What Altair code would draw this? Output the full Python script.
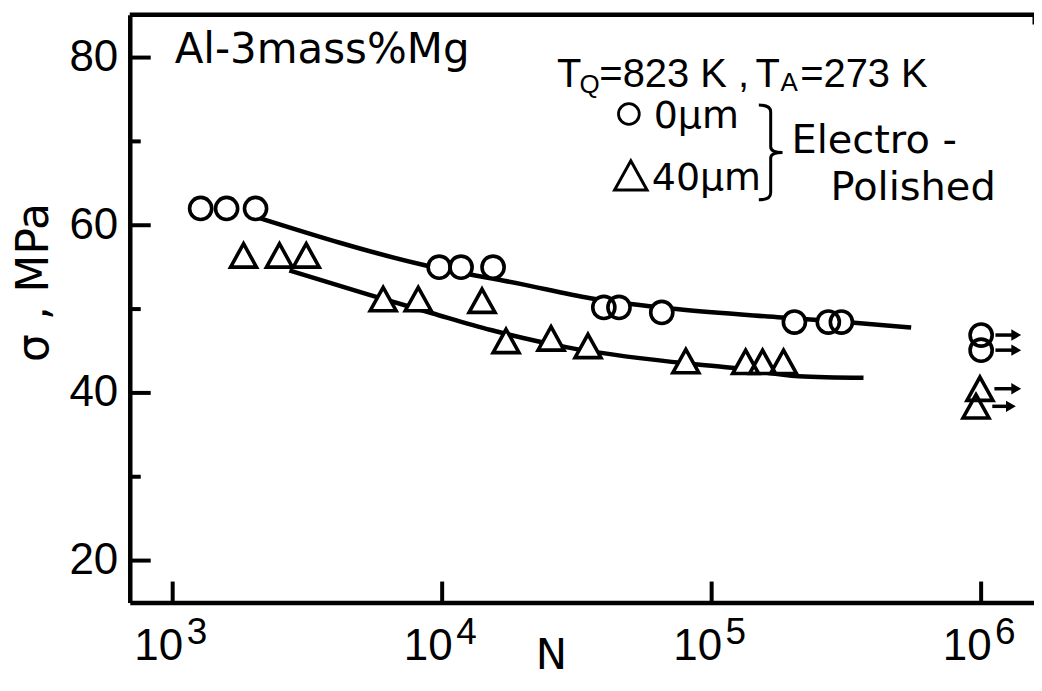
import altair as alt
import pandas as pd

# ---------------- values ----------------
# 0 um electro-polished (circles)
n_0um = [1270, 1585, 2030, 9750, 11750, 15450, 39800, 45300, 65300, 202800, 271000, 303000]
s_0um = [62.0, 62.0, 62.0, 55.0, 55.0, 55.0, 50.2, 50.2, 49.6, 48.45, 48.45, 48.45]
# 40 um electro-polished (triangles)
n_40um = [1832, 2490, 3130, 6040, 8150, 14060, 17260, 25350, 34760, 80200, 133700, 154500, 184800]
s_40um = [56.4, 56.4, 56.4, 51.2, 51.2, 51.0, 46.2, 46.5, 45.6, 43.8, 43.7, 43.7, 43.7]

# run-outs at 10^6 cycles
run_n_0um = [1.0e6, 1.0e6]
run_s_0um = [46.9, 45.1]
run_n_40um = [0.99e6, 0.957e6]
run_s_40um = [40.5, 38.4]
arrow_from = [1.13e6, 1.13e6, 1.12e6, 1.10e6]
arrow_to = [1.35e6, 1.35e6, 1.35e6, 1.29e6]
arrow_s = [46.9, 45.1, 40.5, 38.4]

# fitted S-N curves
fit_n_0um = [2030, 8700, 19500, 35500, 74000, 182000, 347000, 550000]
fit_s_0um = [61.0, 55.2, 53.0, 51.3, 50.0, 49.0, 48.35, 47.8]
fit_n_40um = [2710, 5370, 9180, 15170, 29500, 71100, 118600, 210000, 366000]
fit_s_40um = [54.6, 51.7, 49.5, 47.5, 45.4, 43.7, 43.0, 42.0, 41.8]

# axes
x_ticks = [1e3, 1e4, 1e5, 1e6]
x_exponents = ["3", "4", "5", "6"]
y_major = [20, 40, 60, 80]
y_minor = [30, 50, 70]

# annotations (anchors in data coordinates)
alloy_text = ["Al-3mass%Mg"]
alloy_n = [1017]
alloy_s = [79.4]
cond_text = ["T", "=823 K ,", "T", "=273 K"]
cond_n = [26680, 38300, 145500, 213000]
cond_s = [76.43, 76.43, 76.43, 76.43]
sub_text = ["Q", "A"]
sub_n = [32300, 180000]
sub_s = [75.83, 76.07]
unit_text = ["0μm", "40μm"]
unit_n = [60950, 59950]
unit_s = [71.55, 64.17]
polish_text = ["Electro -", "Polished"]
polish_n = [197700, 276200]
polish_s = [68.57, 62.98]
legend_circle_n = [49300]
legend_circle_s = [73.27]
legend_tri_n = [50120]
legend_tri_s = [65.95]
brace_n = [165600]
brace_s = [68.69]

# ---------------- chart ----------------
W, H = 906, 589
TRI = "M0,-0.9L1,0.9L-1,0.9Z"
BRACE = "M-0.25,-1Q0,-1 0,-0.85L0,-0.12Q0,0 0.25,0Q0,0 0,0.12L0,0.85Q0,1 -0.25,1"

xscale = alt.Scale(type="log", domain=[693, 1571000], nice=False)
yscale = alt.Scale(domain=[15, 85.12], nice=False, zero=False)

xaxis = alt.Axis(
    values=x_ticks, labelExpr="'10'", labelAlign="right", labelOffset=10,
    labelBaseline="alphabetic", labelPadding=57, labelFont="Liberation Sans",
    labelFontSize=44, labelColor="black", ticks=False, tickSize=0, grid=False,
    domainColor="black", domainWidth=4.5,
    title="N", titleFont="DejaVu Sans", titleFontSize=42, titleFontWeight="normal",
    titleColor="black", titleX=422, titleY=66, titleAlign="center",
    titleBaseline="alphabetic",
)
yaxis = alt.Axis(
    values=y_major, labelFont="Liberation Sans", labelFontSize=44, labelColor="black",
    labelPadding=12, ticks=False, tickSize=0, grid=False, domainColor="black",
    domainWidth=4.5, labelBaseline="middle",
    title="σ , MPa", titleFont="DejaVu Sans", titleFontSize=44, titleFontWeight="normal",
    titleColor="black", titleX=-95, titleY=268, titleAngle=270, titleAlign="center",
    titleBaseline="middle",
)

X = alt.X("n:Q", scale=xscale, axis=xaxis)
Y = alt.Y("s:Q", scale=yscale, axis=yaxis)


def df(n=None, s=None, **kw):
    d = {}
    if n is not None:
        d["n"] = n
    if s is not None:
        d["s"] = s
    d.update(kw)
    return pd.DataFrame(d)


one = pd.DataFrame({"k": [0]})

top_spine = alt.Chart(one).mark_rule(color="black", strokeWidth=4.5).encode(
    x=alt.value(0), x2=alt.value(W), y=alt.value(0))
right_stub = alt.Chart(one).mark_rule(color="black", strokeWidth=3).encode(
    x=alt.value(W), y=alt.value(0), y2=alt.value(10))

ytick_major = alt.Chart(df(s=y_major)).mark_rule(color="black", strokeWidth=4).encode(
    y=Y, x=alt.value(0), x2=alt.value(21))
ytick_minor = alt.Chart(df(s=y_minor)).mark_rule(color="black", strokeWidth=4).encode(
    y=Y, x=alt.value(0), x2=alt.value(11))
xtick = alt.Chart(df(n=x_ticks)).mark_rule(color="black", strokeWidth=4).encode(
    x=X, y=alt.value(H), y2=alt.value(H - 21))
xexp = alt.Chart(df(n=x_ticks, t=x_exponents)).mark_text(
    font="Liberation Sans", fontSize=37, align="left", baseline="alphabetic",
    dx=14, color="black").encode(x=X, y=alt.value(631), text="t:N")

fit0 = alt.Chart(df(fit_n_0um, fit_s_0um)).mark_line(
    color="black", strokeWidth=4.5, interpolate="monotone").encode(x=X, y=Y)
fit40 = alt.Chart(df(fit_n_40um, fit_s_40um)).mark_line(
    color="black", strokeWidth=4.5, interpolate="monotone").encode(x=X, y=Y)

arrows = alt.Chart(df(arrow_from, arrow_s, n2=arrow_to)).mark_rule(
    color="black", strokeWidth=3.5).encode(x=X, x2="n2:Q", y=Y)
heads = alt.Chart(df(arrow_to, arrow_s)).mark_point(
    shape="triangle-right", filled=True, color="black", size=130, opacity=1).encode(x=X, y=Y)

circ_n = n_0um + run_n_0um
circ_s = s_0um + run_s_0um
tri_n = n_40um + run_n_40um
tri_s = s_40um + run_s_40um

circ_fill = alt.Chart(df(circ_n, circ_s)).mark_point(
    shape="circle", filled=True, color="white", size=491, opacity=1).encode(x=X, y=Y)
tri_fill = alt.Chart(df(tri_n, tri_s)).mark_point(
    shape=TRI, filled=True, color="white", size=676, opacity=1).encode(x=X, y=Y)
circ_line = alt.Chart(df(circ_n, circ_s)).mark_point(
    shape="circle", filled=False, color="black", strokeWidth=3.6, size=491, opacity=1).encode(x=X, y=Y)
tri_line = alt.Chart(df(tri_n, tri_s)).mark_point(
    shape=TRI, filled=False, color="black", strokeWidth=3.6, size=676, opacity=1).encode(x=X, y=Y)

leg_circ = alt.Chart(df(legend_circle_n, legend_circle_s)).mark_point(
    shape="circle", filled=False, color="black", strokeWidth=2.8, size=434, opacity=1).encode(x=X, y=Y)
leg_tri = alt.Chart(df(legend_tri_n, legend_tri_s)).mark_point(
    shape=TRI, filled=False, color="black", strokeWidth=3, size=1056, opacity=1).encode(x=X, y=Y)
brace = alt.Chart(df(brace_n, brace_s)).mark_point(
    shape=BRACE, filled=False, color="black", strokeWidth=3, size=9025, opacity=1).encode(x=X, y=Y)


def text_layer(texts, ns, ss, font, size):
    return alt.Chart(df(ns, ss, t=texts)).mark_text(
        font=font, fontSize=size, align="left", baseline="alphabetic", color="black"
    ).encode(x=X, y=Y, text="t:N")


t_alloy = text_layer(alloy_text, alloy_n, alloy_s, "DejaVu Sans", 42)
t_cond = text_layer(cond_text, cond_n, cond_s, "Liberation Sans", 40)
t_sub = text_layer(sub_text, sub_n, sub_s, "Liberation Sans", 26)
t_unit = text_layer(unit_text, unit_n, unit_s, "DejaVu Sans", 38)
t_pol = text_layer(polish_text, polish_n, polish_s, "DejaVu Sans", 40)

chart = alt.layer(
    top_spine, right_stub, ytick_major, ytick_minor, xtick, xexp,
    fit0, fit40, arrows, heads,
    circ_fill, tri_fill, circ_line, tri_line,
    leg_circ, leg_tri, brace,
    t_alloy, t_cond, t_sub, t_unit, t_pol,
).properties(
    width=W, height=H,
    autosize=alt.AutoSizeParams(type="none"),
    padding={"left": 122, "top": 6, "right": 0, "bottom": 78},
    background="white",
).configure_view(stroke=None)

chart.save("out.html", embed_options={"renderer": "svg", "actions": False})
